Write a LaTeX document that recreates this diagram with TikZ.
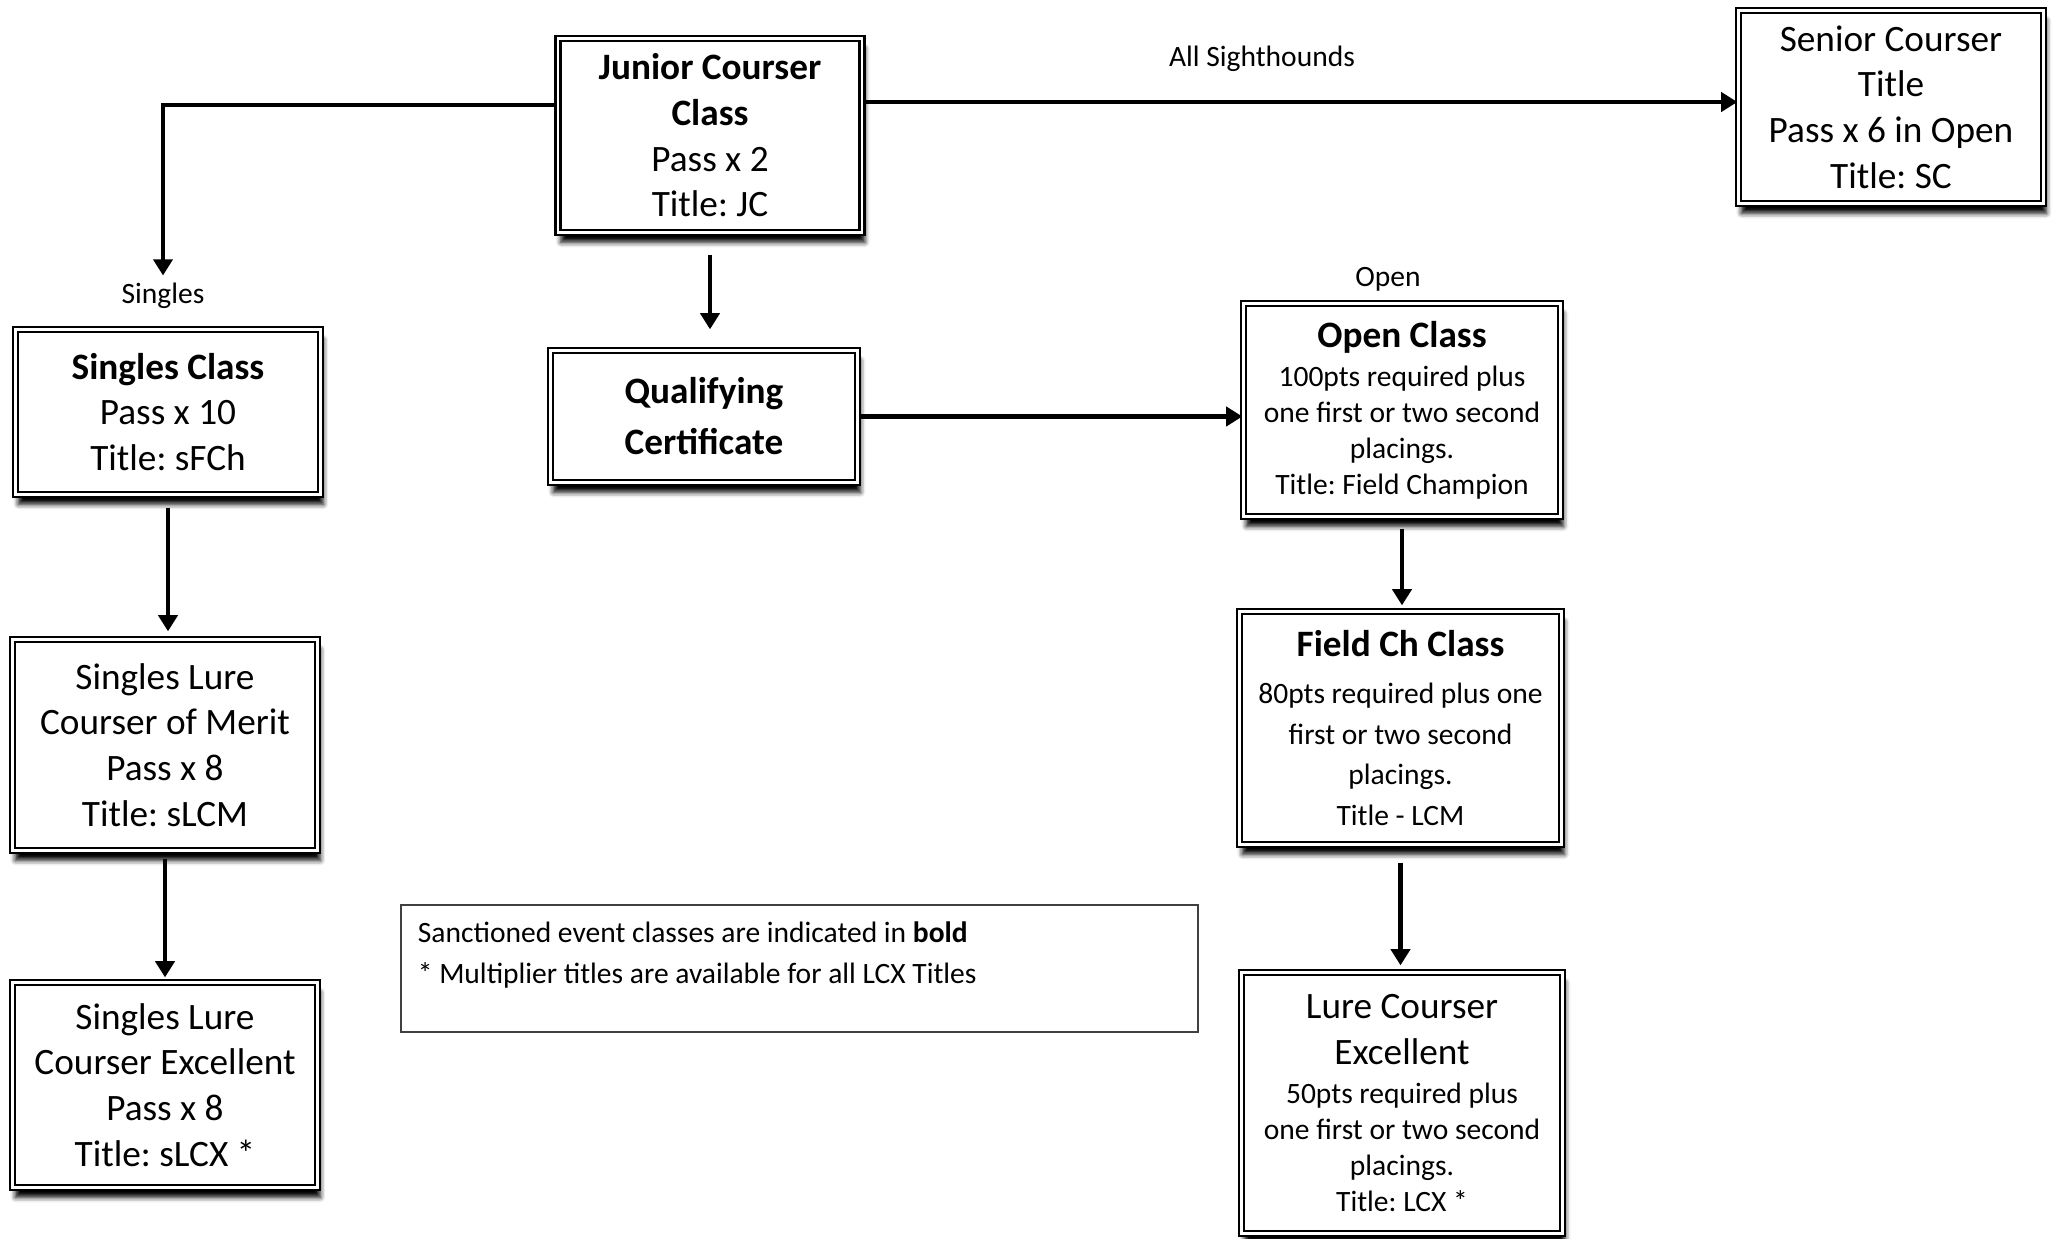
\documentclass[tikz,border=0pt]{standalone}
\usepackage{fontspec}
\setmainfont{Carlito}
\usetikzlibrary{arrows.meta,shadows.blur}
\newcommand{\bigtxt}{\fontsize{10.6}{13}\selectfont}
\newcommand{\smalltxt}{\fontsize{8.4}{10.2}\selectfont}
\tikzset{
  stage/.style={draw, line width=0.65pt, double=white, double distance=0.8pt, fill=white,
    align=flush center, inner sep=0pt, font=\bigtxt,
    blur shadow={shadow xshift=0.8pt, shadow yshift=-2.8pt, shadow blur radius=1.4pt, shadow opacity=100}},
  flow/.style={-{Triangle[length=4.6pt,width=5.4pt]}, line width=1.35pt},
  tag/.style={font=\smalltxt, inner sep=1pt},
  notebox/.style={draw=black!75, line width=0.5pt, inner sep=0.17cm, font=\smalltxt},
}
\begin{document}
\frenchspacing
\begin{tikzpicture}
  \useasboundingbox (0,0) rectangle (20.55,-12.39);
  \node[stage, minimum width=3.04cm, minimum height=1.94cm] (junior) at (7.10,-1.355)
    {\textbf{Junior Courser}\\\textbf{Class}\\Pass x 2\\Title: JC};
  \node[stage, minimum width=3.05cm, minimum height=1.93cm] (senior) at (18.91,-1.07)
    {Senior Courser\\Title\\Pass x 6 in Open\\Title: SC};
  \node[stage, minimum width=3.05cm, minimum height=1.65cm] (singles) at (1.68,-4.12)
    {\textbf{Singles Class}\\Pass x 10\\Title: sFCh};
  \node[stage, minimum width=3.07cm, minimum height=1.32cm, font=\fontsize{10.6}{14.5}\selectfont] (qual) at (7.04,-4.165)
    {\textbf{Qualifying}\\\textbf{Certificate}};
  \node[stage, text width=3.17cm, minimum height=2.13cm] (open) at (14.02,-4.10)
    {{\textbf{Open Class}\par}\vspace{1pt}{\smalltxt 100pts required plus\\one first or two second\\placings.\\Title: Field Champion\par}};
  \node[stage, text width=3.22cm, minimum height=2.33cm] (field) at (14.005,-7.28)
    {{\textbf{Field Ch Class}\par}\vspace{1.8pt}{\fontsize{8.4}{11.6}\selectfont 80pts required plus one\\first or two second\\placings.\\Title - LCM\par}};
  \node[stage, minimum width=3.05cm, minimum height=2.11cm] (slcm) at (1.65,-7.45)
    {Singles Lure\\Courser of Merit\\Pass x 8\\Title: sLCM};
  \node[stage, minimum width=3.05cm, minimum height=2.05cm] (slcx) at (1.65,-10.85)
    {Singles Lure\\Courser Excellent\\Pass x 8\\Title: sLCX *};
  \node[stage, text width=3.21cm, minimum height=2.61cm] (lurecx) at (14.02,-11.03)
    {{Lure Courser\\Excellent\par}\vspace{1pt}{\smalltxt 50pts required plus\\one first or two second\\placings.\\Title: LCX *\par}};
  \node[notebox, anchor=north west] (note) at (4.00,-9.04)
    {\parbox[t][0.93cm][t]{7.63cm}{\fontsize{8.4}{11.6}\selectfont Sanctioned event classes are indicated in \textbf{bold}\par {*} Multiplier titles are available for all LCX Titles}};
  \node[tag] (singleslbl) at (1.63,-2.96) {Singles};
  \node[tag] (sighthlbl) at (12.62,-0.59) {All Sighthounds};
  \node[tag] (openlbl) at (13.88,-2.79) {Open};
  \coordinate (knee) at (1.63,-1.05);
  \coordinate (seniorin) at ([yshift=0.05cm]senior.west);
  \draw[flow, shorten >=1pt] (junior.west |- knee) -| (singleslbl.north);
  \draw[flow] (junior.east |- seniorin) -- (seniorin);
  \draw[flow, shorten <=0.21cm, shorten >=0.2cm] (junior.south) -- (junior.south |- qual.north);
  \draw[flow] (qual.east) -- (qual.east -| open.west);
  \draw[flow, shorten <=0.11cm, shorten >=0.05cm] (open.south) -- (open.south |- field.north);
  \draw[flow, shorten <=0.17cm, shorten >=0.06cm] (field.south) -- (field.south |- lurecx.north);
  \draw[flow, shorten <=0.12cm, shorten >=0.07cm] (singles.south) -- (singles.south |- slcm.north);
  \draw[flow, shorten <=0.07cm, shorten >=0.04cm] (slcm.south) -- (slcm.south |- slcx.north);
\end{tikzpicture}
\end{document}
